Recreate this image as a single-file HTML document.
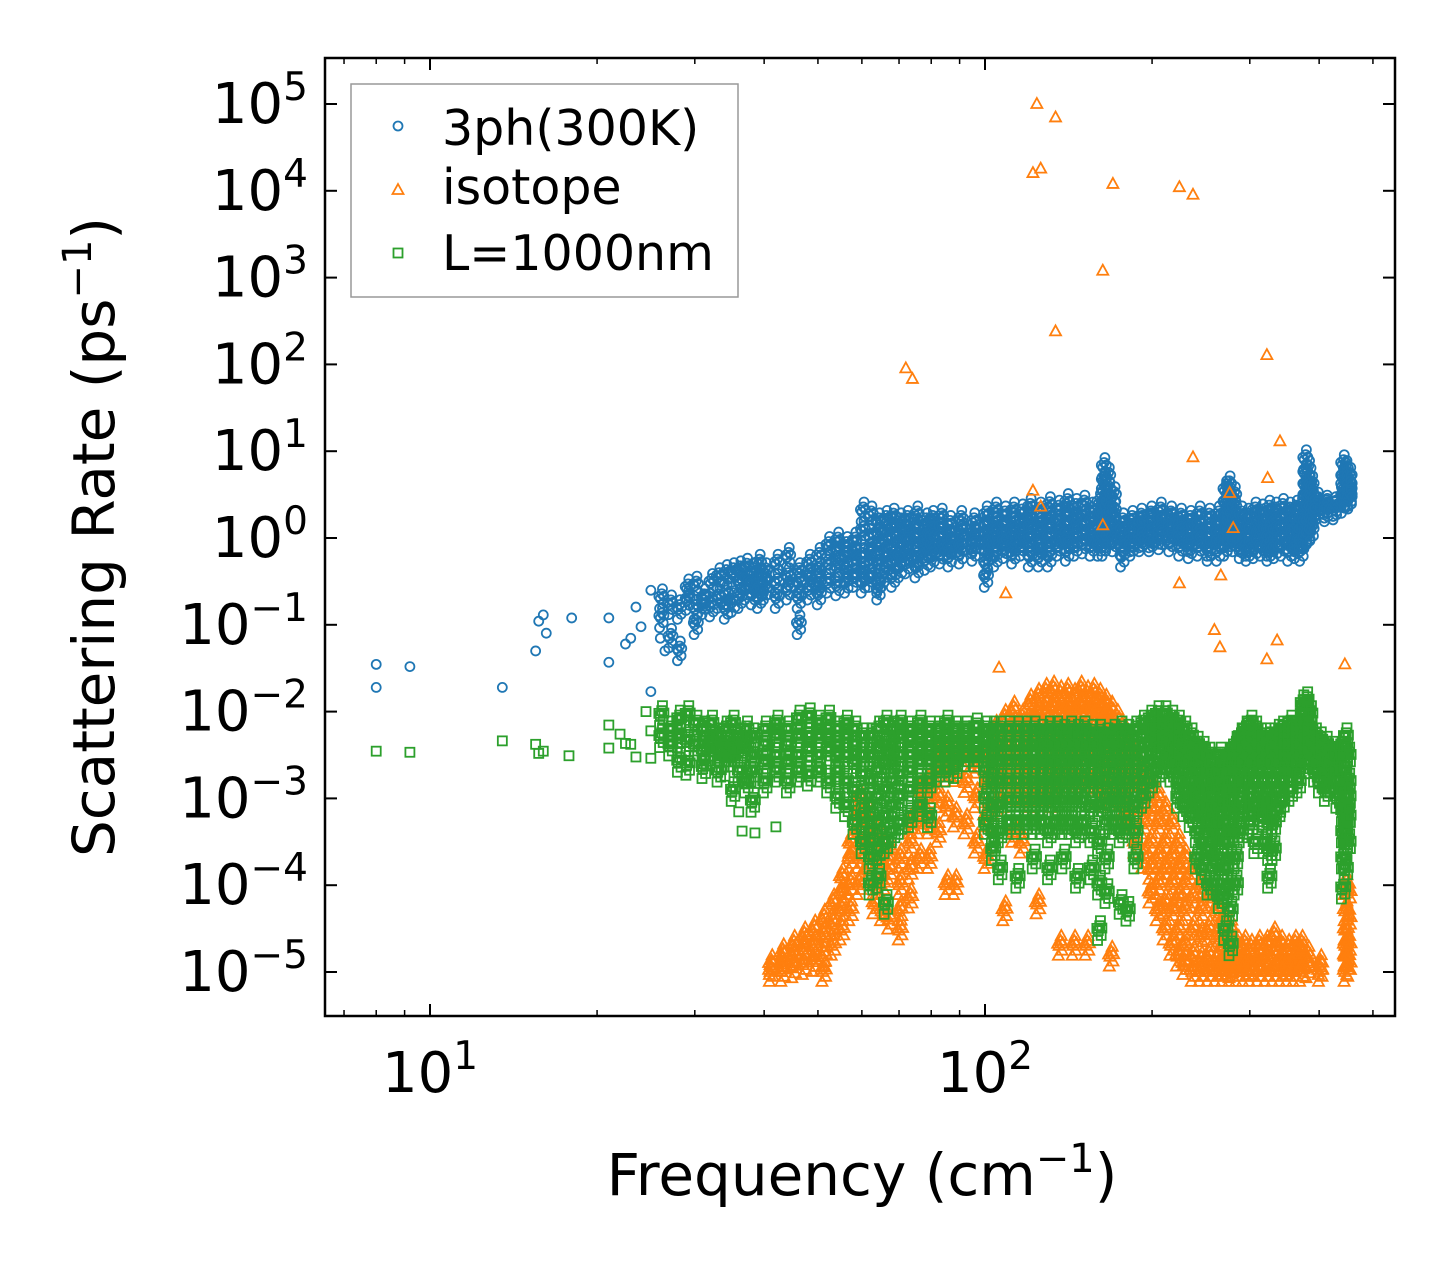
<!DOCTYPE html>
<html><head><meta charset="utf-8"><style>
html,body{margin:0;padding:0;background:#fff;}
svg{display:block;font-family:"DejaVu Sans","Liberation Sans",sans-serif;}
</style></head><body>
<svg id="chart" width="1455" height="1265" viewBox="0 0 1455 1265" xmlns="http://www.w3.org/2000/svg">
<rect width="1455" height="1265" fill="#fff"/>
<g id="marks"></g>
<g id="axes"></g>
<rect x="325" y="58" width="1070" height="958" fill="none" stroke="#000" stroke-width="2.5"/>
<g>
<rect x="351" y="84" width="387" height="213" fill="#fff" fill-opacity="0.85" stroke="#999" stroke-width="1.5"/>
<g><circle cx="398" cy="126" r="4.5" fill="none" stroke="#1f77b4" stroke-width="1.8"/><text x="442" y="145" font-size="49">3ph(300K)</text></g>
<g><path d="M398,184 L403.5,194 L392.5,194 Z" fill="none" stroke="#ff7f0e" stroke-width="1.8"/><text x="442" y="204" font-size="49">isotope</text></g>
<g><rect x="393.5" y="248.5" width="9" height="9" fill="none" stroke="#2ca02c" stroke-width="1.8"/><text x="442" y="270" font-size="49">L=1000nm</text></g>
</g>
<text x="862" y="1195" font-size="58" text-anchor="middle">Frequency (cm<tspan font-size="40" dy="-23">−1</tspan><tspan dy="23">)</tspan></text>
<text transform="translate(114,537) rotate(-90)" font-size="58" text-anchor="middle">Scattering Rate (ps<tspan font-size="40" dy="-23">−1</tspan><tspan dy="23">)</tspan></text>
</svg>
<script>
const xDecades = [1, 2];
const yDecades = [5, 4, 3, 2, 1, 0, -1, -2, -3, -4, -5];
const blueSparse = [[8,0.035],[8,0.019],[9.2,0.033],[13.5,0.019],[15.5,0.05],[15.7,0.11],[16,0.13],[16.2,0.08],[18,0.12],[21,0.12],[21,0.037],[22.5,0.06],[23,0.07],[23.5,0.16],[24,0.095],[25,0.25],[25,0.017],[26,0.07],[26.5,0.05]];
const blueBand = [
[26,[0.12,0.2]],[27,[0.17,0.07]],[28,[0.15,0.05]],[29,[0.19,0.26]],[30,[0.15,0.28,0.1]],[31,[0.2,0.17]],[32,[0.3,0.16]],[33,[0.35,0.2]],[34,[0.38,0.22,0.15]],[35,[0.4,0.18]],[36,[0.3,0.2,0.42]],[37,[0.45,0.25]],[38,[0.4,0.22,0.3]],[39,[0.35,0.2,0.5]],[40,[0.25,0.4,0.3]],[42,[0.3,0.5,0.2]],[44,[0.35,0.25,0.6]],[46,[0.4,0.3,0.2,0.1]],[48,[0.5,0.35,0.25]],[50,[0.6,0.4,0.3,0.22]],[52,[0.8,0.5,0.3]],[54,[0.7,0.45,0.28,0.9]],[56,[0.6,0.4,0.3,0.8]],[58,[0.7,0.5,0.35,0.9]],
[60,[2,1.2,0.6,0.4,0.3]],[62,[1.8,1,0.7,0.5,0.35]],[64,[1.5,1.1,0.8,0.5,0.3,0.25]],[66,[1.6,1.2,0.9,0.6,0.4]],[68,[1.7,1.3,1,0.7,0.5,0.35]],[70,[1.5,1.1,0.8,0.6,0.45]],[72,[1.6,1.2,0.9,0.7,0.5]],[75,[1.8,1.3,1,0.8,0.6,0.45]],[78,[1.5,1.1,0.9,0.7,0.55]],[80,[1.6,1.2,1,0.8,0.6]],[83,[1.7,1.3,1,0.8,0.65]],[86,[1.4,1.1,0.9,0.75,0.6]],[90,[1.6,1.2,1,0.8,0.65]],[95,[1.5,1.2,1,0.85,0.7]],[100,[1.8,1.4,1.1,0.9,0.7,0.5,0.35]],[104,[2,1.5,1.2,1,0.8,0.6]],[108,[1.8,1.4,1.1,0.9,0.75]],[112,[2,1.5,1.2,1,0.8,0.65]],[116,[1.9,1.5,1.2,1,0.8]],[120,[2.2,1.6,1.3,1,0.8,0.6]],[125,[2,1.5,1.2,1,0.75,0.6]],[130,[2.3,1.7,1.3,1,0.8,0.6]],[135,[2.1,1.6,1.2,1,0.8]],[140,[2.5,1.8,1.4,1.1,0.9,0.7]],[145,[2.2,1.6,1.3,1,0.8]],[150,[2.4,1.8,1.4,1.1,0.85]],[155,[2,1.5,1.2,1,0.8]],[160,[2.5,1.8,1.3,1,0.8]],[163,[6.5,4.5,3.5,2.5,1.8,1.3,1,0.8]],[166,[5,3.5,2.5,1.8,1.3,1]],[170,[3,2,1.5,1.1,0.9]],[176,[1.5,1.2,1,0.8,0.6]],[183,[1.6,1.3,1.1,0.9,0.8]],[190,[1.7,1.4,1.2,1,0.9]],[198,[1.8,1.5,1.2,1,0.9]],[206,[2,1.6,1.3,1.1,0.95]],[215,[1.8,1.5,1.3,1.1,0.9]],[224,[1.7,1.4,1.2,1,0.8]],[233,[1.6,1.3,1.1,0.9,0.75]],[242,[1.8,1.4,1.2,1,0.8]],[252,[1.7,1.3,1,0.8,0.7]],[262,[1.8,1.4,1.1,0.9,0.7]],[270,[3.5,2.5,1.8,1.3,1,0.8]],[274,[4,3,2,1.5,1.1,0.9]],[280,[3,2.2,1.6,1.2,0.9]],[288,[1.8,1.4,1.1,0.9,0.75]],[296,[1.7,1.3,1,0.8,0.7]],[305,[2,1.5,1.2,0.9,0.75]],[314,[1.9,1.5,1.2,1,0.8]],[323,[2.1,1.6,1.2,1,0.8,0.7]],[332,[2,1.5,1.2,0.9,0.75]],[342,[2.2,1.7,1.3,1,0.8]],[352,[2,1.5,1.2,0.9,0.7]],[362,[2.1,1.6,1.2,0.9,0.75]],[370,[2.2,1.6,1.2,0.9,0.7]],[376,[8,5.5,4,3,2.2,1.5,1]],[381,[6,4,3,2.2,1.5,1.1]],[386,[4,3,2.2,1.6,1.2]],[395,[2.6,2.3,2.1]],[410,[2.4,2.2,2]],[425,[2.3,2.1]],[440,[7,5,4,3,2.5]],[445,[6,4.5,3.5,3]],[452,[5,4,3.5,3,2.8]]];
const orangeSparse = [[124,1e5],[134,7e4],[122,1.6e4],[126,1.8e4],[170,1.2e4],[224,1.1e4],[237,9e3],[163,1.2e3],[134,240],[72,90],[74,68],[322,128],[340,13],[237,8.5],[323,4.9],[122,3.5],[126,2.3],[163,1.4],[276,3.3],[280,1.3],[109,0.23],[224,0.3],[266,0.37],[259,0.087],[265,0.055],[336,0.066],[322,0.04],[445,0.035],[106,0.032]];
const orangeBand = [
[41,[1e-5,1.2e-5]],[43,[1e-5,1.3e-5,1.6e-5]],[45,[1.1e-5,1.5e-5,2e-5]],[47,[1.2e-5,1.8e-5,2.5e-5]],[49,[1.3e-5,2e-5,3e-5]],[51,[1.5e-5,2.5e-5,4e-5,1e-5]],[53,[2e-5,3.5e-5,6e-5]],[55,[3e-5,5e-5,8e-5,1.2e-4]],[57,[5e-5,1e-4,2e-4,3e-4]],[59,[1e-4,2e-4,4e-4,7e-4,1e-3]],[61,[1.5e-4,3e-4,5e-4,8e-4]],[63,[2e-4,3e-4,4e-4,1e-4,6e-5]],[65,[2e-4,3e-4,5e-5,1e-4]],[67,[1.5e-4,2.5e-4,4e-5]],[70,[1e-4,2e-4,5e-5,3e-5]],[73,[1.5e-4,3e-4,5e-4,7e-5]],[76,[5e-4,8e-4,1.2e-3,2e-4]],[79,[1e-3,1.5e-3,5e-4,2e-4]],[82,[2e-3,3e-3,1e-3,4e-4]],[85,[3e-3,2e-3,8e-4,1e-4]],[88,[3.5e-3,2e-3,6e-4,1e-4]],[92,[3e-3,1.5e-3,5e-4]],[96,[2.5e-3,1e-3,3e-4]],[100,[3e-3,1.5e-3,6e-4,2e-4]],[104,[6e-3,3e-3,1.5e-3,8e-4]],[108,[8e-3,4e-3,2e-3,1e-3,5e-5]],[112,[1e-2,6e-3,3e-3,1.5e-3,4e-4]],[116,[8e-3,5e-3,2.5e-3,1.2e-3,3e-4]],[120,[1.2e-2,7e-3,4e-3,2e-3,1e-3]],[124,[1.4e-2,9e-3,5e-3,2.5e-3,1.2e-3,6e-5]],[128,[1.6e-2,1e-2,6e-3,3e-3,1.5e-3]],[132,[1.7e-2,1.1e-2,7e-3,4e-3,2e-3,1e-3]],[136,[1.5e-2,1e-2,6e-3,3e-3,1.5e-3,2e-5]],[140,[1.6e-2,1.1e-2,7e-3,4e-3,2e-3]],[144,[1.4e-2,9e-3,5e-3,3e-3,1.5e-3,2e-5]],[148,[1.7e-2,1.1e-2,6e-3,3e-3,1.5e-3]],[152,[1.5e-2,1e-2,6e-3,3e-3,1.5e-3,2e-5]],[156,[1.6e-2,1e-2,6e-3,3e-3,1.5e-3]],[160,[1.4e-2,9e-3,5e-3,2.5e-3,1.2e-3]],[164,[1.2e-2,8e-3,4e-3,2e-3,1e-3]],[168,[1e-2,6e-3,3e-3,1.5e-3,1.5e-5]],[172,[8e-3,5e-3,2.5e-3,1.2e-3]],[176,[6e-3,3e-3,1.5e-3,8e-4]],[180,[4e-3,2e-3,1e-3,5e-4]],[186,[3e-3,1.5e-3,7e-4,3e-4]],[192,[2e-3,1e-3,5e-4,2e-4]],[198,[1.5e-3,7e-4,3e-4,1.5e-4,8e-5]],[204,[1e-3,5e-4,2e-4,1e-4,5e-5]],[210,[7e-4,3e-4,1.5e-4,6e-5,3e-5]],[216,[5e-4,2e-4,1e-4,5e-5,2e-5]],[222,[3e-4,1.5e-4,7e-5,3e-5,1.5e-5]],[228,[2e-4,1e-4,5e-5,2e-5,1.2e-5]],[236,[1.5e-4,7e-5,3e-5,1.5e-5,1e-5]],[244,[1e-4,5e-5,2.5e-5,1.3e-5,1e-5]],[252,[7e-5,3e-5,1.5e-5,1e-5]],[260,[5e-5,2.5e-5,1.3e-5,1e-5]],[268,[4e-5,2e-5,1.2e-5,1e-5]],[276,[3e-5,1.7e-5,1.1e-5,1e-5]],[284,[2e-5,1.4e-5,1e-5]],[292,[2e-5,1.3e-5,1e-5]],[300,[1.8e-5,1.2e-5,1e-5]],[310,[2e-5,1.3e-5,1e-5]],[320,[2e-5,1.4e-5,1e-5]],[330,[2.5e-5,1.5e-5,1e-5]],[340,[2e-5,1.3e-5,1e-5]],[350,[1.8e-5,1.2e-5,1e-5]],[360,[2e-5,1.3e-5,1e-5]],[370,[2e-5,1.5e-5,1e-5]],[380,[1.5e-5,1.1e-5]],[400,[1.2e-5,1e-5]],[445,[1e-4,5e-5,3e-5,2e-5,1.5e-5,1e-5]],[450,[8e-5,4e-5,2e-5,1.2e-5]]];
const greenSparse = [[8,3.5e-3],[9.2,3.4e-3],[13.5,4.6e-3],[15.5,4.2e-3],[15.7,3.3e-3],[16,3.5e-3],[17.8,3.1e-3],[21,7e-3],[21,3.8e-3],[22,5.5e-3],[22.5,4.3e-3],[23,4.2e-3],[23.5,3e-3],[24.5,1e-2],[25,6e-3],[25,2.9e-3],[36.5,4.2e-4],[38.5,4e-4],[42,4.7e-4],[36,7e-4],[34,1.8e-3]];
const greenBand = [
[26,[9e-3,5e-3]],[27,[6e-3,4e-3]],[28,[8e-3,5e-3,2.6e-3]],[29,[9e-3,4.5e-3,2.4e-3]],[30,[7e-3,4e-3]],[31,[6e-3,3.5e-3,2.2e-3]],[32,[7e-3,4.5e-3,3.5e-3]],[33,[5e-3,3.5e-3,2e-3]],[34,[6e-3,4e-3,3e-3]],[35,[7e-3,4e-3,3e-3,1.2e-3]],[36,[5e-3,3.5e-3,2e-3]],[37,[6e-3,4e-3,1.5e-3]],[38,[5e-3,3e-3,2e-3,9e-4]],[40,[6e-3,4e-3,2.5e-3,1.5e-3]],[42,[7e-3,5e-3,3e-3,2e-3]],[44,[6e-3,4e-3,2.5e-3,1.5e-3]],[46,[8e-3,5e-3,3e-3,2e-3]],[48,[8.5e-3,5e-3,3.5e-3,1.8e-3]],[50,[7e-3,5e-3,3e-3,2e-3]],[52,[8e-3,5e-3,3.5e-3,1.5e-3]],[54,[6e-3,4e-3,3e-3,2e-3,1e-3]],[56,[7e-3,5e-3,3e-3,1.5e-3,8e-4]],[58,[6e-3,4e-3,2.5e-3,1.2e-3,5e-4]],[60,[5e-3,3e-3,1.8e-3,1e-3,6e-4,3e-4]],[62,[5e-3,3e-3,1.5e-3,8e-4,4e-4,2e-4,1e-4]],[64,[6e-3,3.5e-3,2e-3,1e-3,5e-4,2.5e-4,1.2e-4]],[66,[7e-3,4e-3,2.5e-3,1.2e-3,6e-4,3e-4,6e-5]],[68,[6e-3,4e-3,2.5e-3,1.5e-3,8e-4,4e-4]],[70,[7e-3,5e-3,3e-3,1.8e-3,1e-3,5e-4]],[73,[6e-3,4.5e-3,3e-3,2e-3,1.2e-3,6e-4]],[76,[7e-3,5e-3,3.5e-3,2.5e-3,1.5e-3,8e-4]],[79,[6e-3,4.5e-3,3.5e-3,2.5e-3,1.5e-3,6e-4]],[82,[6e-3,5e-3,4e-3,3e-3,2e-3]],[85,[7e-3,5e-3,4e-3,3e-3,2e-3]],[88,[6e-3,5e-3,4e-3,3e-3,2.2e-3]],[92,[6e-3,5e-3,4e-3,3e-3]],[96,[6.5e-3,5e-3,4e-3,3e-3]],[100,[6e-3,4.5e-3,3e-3,2e-3,1e-3,5e-4]],[103,[6e-3,4e-3,2.5e-3,1.5e-3,8e-4,4e-4,2.5e-4]],[106,[6e-3,4e-3,2.5e-3,1.5e-3,8e-4,4e-4,1.5e-4]],[110,[6e-3,4e-3,2.5e-3,1.5e-3,9e-4,5e-4]],[114,[6e-3,4e-3,2.5e-3,1.5e-3,9e-4,5e-4,1.2e-4]],[118,[6e-3,4e-3,2.5e-3,1.5e-3,9e-4,5e-4]],[122,[6e-3,4e-3,2.5e-3,1.5e-3,9e-4,5e-4,2e-4]],[126,[5.5e-3,4e-3,2.5e-3,1.5e-3,9e-4,5e-4]],[130,[6e-3,4e-3,2.5e-3,1.5e-3,9e-4,4e-4,1.5e-4]],[134,[6e-3,4e-3,2.5e-3,1.5e-3,9e-4,5e-4]],[138,[5.5e-3,4e-3,2.5e-3,1.5e-3,9e-4,5e-4,2e-4]],[142,[6e-3,4e-3,2.5e-3,1.5e-3,9e-4,5e-4]],[146,[5.5e-3,4e-3,2.5e-3,1.5e-3,9e-4,4e-4,1.2e-4]],[150,[6e-3,4e-3,2.5e-3,1.5e-3,9e-4,5e-4]],[155,[5.5e-3,4e-3,2.5e-3,1.5e-3,8e-4,4e-4,1.5e-4]],[160,[5.5e-3,4e-3,2.5e-3,1.5e-3,8e-4,3e-4,1e-4,3e-5]],[165,[5e-3,3.5e-3,2e-3,1e-3,5e-4,2e-4,8e-5]],[170,[5.5e-3,4e-3,2.5e-3,1.5e-3,9e-4,5e-4]],[175,[6e-3,4e-3,2.5e-3,1.5e-3,9e-4,4e-4,6e-5]],[180,[5.5e-3,4e-3,2.5e-3,1.5e-3,9e-4,5e-4,5e-5]],[186,[6e-3,4e-3,2.5e-3,1.5e-3,8e-4,4e-4,2e-4]],[192,[7e-3,5e-3,3e-3,1.8e-3,1e-3]],[198,[8e-3,6e-3,4e-3,2.5e-3,1.5e-3]],[204,[9e-3,6e-3,4.5e-3,3e-3,2e-3]],[210,[9e-3,7e-3,5e-3,3.5e-3,2.5e-3]],[216,[8e-3,6e-3,4.5e-3,3e-3,2e-3]],[222,[7e-3,5e-3,3.5e-3,2.5e-3,1.5e-3,1e-3]],[228,[6e-3,4e-3,3e-3,2e-3,1.2e-3,8e-4]],[234,[5e-3,3.5e-3,2.5e-3,1.5e-3,1e-3,6e-4]],[240,[4e-3,3e-3,2e-3,1.2e-3,8e-4,4e-4,2e-4]],[246,[3.5e-3,2.5e-3,1.5e-3,1e-3,6e-4,3e-4,1.5e-4]],[252,[3e-3,2e-3,1.2e-3,8e-4,5e-4,2.5e-4,1e-4]],[258,[2.5e-3,1.5e-3,1e-3,6e-4,4e-4,2e-4,1e-4]],[264,[3e-3,2e-3,1.2e-3,8e-4,5e-4,3e-4,1.5e-4,7e-5]],[270,[2.5e-3,1.5e-3,9e-4,5e-4,3e-4,1.5e-4,8e-5,3e-5]],[276,[3e-3,2e-3,1.2e-3,7e-4,4e-4,2e-4,1e-4,5e-5,2e-5]],[282,[4e-3,3e-3,2e-3,1.2e-3,7e-4,4e-4,2e-4,1e-4]],[288,[5e-3,4e-3,3e-3,2e-3,1.2e-3,7e-4,4e-4]],[294,[6e-3,4.5e-3,3.5e-3,2.5e-3,1.5e-3,8e-4]],[300,[7e-3,5e-3,4e-3,3e-3,2e-3,1e-3,5e-4]],[306,[6e-3,4.5e-3,3.5e-3,2.5e-3,1.5e-3,8e-4,3e-4]],[312,[5e-3,4e-3,3e-3,2e-3,1.2e-3,7e-4]],[318,[5e-3,3.5e-3,2.5e-3,1.5e-3,1e-3,6e-4,3e-4]],[324,[4.5e-3,3e-3,2e-3,1.2e-3,8e-4,5e-4,2.5e-4,1.2e-4]],[330,[5e-3,3.5e-3,2.5e-3,1.5e-3,9e-4,5e-4,2.5e-4]],[336,[5.5e-3,4e-3,3e-3,2e-3,1.2e-3,7e-4]],[342,[6e-3,4.5e-3,3.5e-3,2.5e-3,1.5e-3,9e-4]],[348,[6e-3,5e-3,4e-3,3e-3,2e-3]],[354,[7e-3,5e-3,4e-3,3e-3,2e-3,1.2e-3]],[360,[6e-3,5e-3,4e-3,3e-3,2e-3]],[366,[6e-3,4.5e-3,3.5e-3,2.5e-3,1.5e-3]],[372,[1.2e-2,9e-3,6e-3,4e-3,3e-3]],[378,[1.3e-2,1e-2,7e-3,5e-3,3.5e-3,2.5e-3]],[384,[9e-3,6e-3,4.5e-3,3.5e-3,2.5e-3]],[392,[5e-3,4e-3,3e-3,2e-3]],[400,[4.5e-3,3.5e-3,2.5e-3,1.5e-3]],[410,[4e-3,3e-3,2e-3,1.2e-3]],[420,[3.5e-3,2.5e-3,1.5e-3]],[430,[3e-3,2e-3,1e-3]],[440,[4e-3,3e-3,2e-3,1.2e-3,7e-4,4e-4,2e-4,9e-5]],[445,[5e-3,3e-3,1.5e-3,8e-4,5e-4,3e-4,1.5e-4]],[450,[3e-3,1.5e-3,1e-3,6e-4,3e-4]]];

const X0 = 430, XDEC = 555, Y0 = 104, YDEC = 86.8;
function xs(f){ return X0 + (Math.log10(f) - 1) * XDEC; }
function ys(r){ return Y0 + (5 - Math.log10(r)) * YDEC; }
const NS = 'http://www.w3.org/2000/svg';
const marks = document.getElementById('marks');
const axes = document.getElementById('axes');
function mk(tag, attrs, parent){ const e = document.createElementNS(NS, tag); for (const k in attrs) e.setAttribute(k, attrs[k]); parent.appendChild(e); return e; }

const gB = mk('g', {}, marks);


const gO = mk('g', {}, marks);


const gG = mk('g', {}, marks);



function circle(f, r){ const e = mk('circle', {cx: xs(f), cy: ys(r), r: 4.5, fill: 'none', stroke: '#1f77b4', 'stroke-width': 1.8}, gB);
  
   }
function tri(f, r){ const x = xs(f), y = ys(r);
  const e = mk('path', {d: `M${x},${y-6} L${x+5.5},${y+4} L${x-5.5},${y+4} Z`, fill: 'none', stroke: '#ff7f0e', 'stroke-width': 1.8}, gO);
  
   }
function sq(f, r){ const x = xs(f), y = ys(r);
  const e = mk('rect', {x: x-4.5, y: y-4.5, width: 9, height: 9, fill: 'none', stroke: '#2ca02c', 'stroke-width': 1.8}, gG);
  
   }

const spread = [[1,1],[1.006,1.14],[1.012,0.88],[0.994,1.06],[1.009,1.3],[0.997,0.77],[1.015,1.07]];
blueSparse.forEach(p => circle(p[0], p[1]));
blueBand.forEach(([f, rs]) => rs.forEach(r => spread.forEach(s => circle(f*s[0], r*s[1]))));
orangeSparse.forEach(p => tri(p[0], p[1]));
orangeBand.forEach(([f, rs]) => rs.forEach(r => spread.forEach(s => tri(f*s[0], r*s[1]))));
greenSparse.forEach(p => sq(p[0], p[1]));
greenBand.forEach(([f, rs]) => rs.forEach(r => spread.forEach(s => sq(f*s[0], r*s[1]))));

const L = 325, R = 1395, T = 58, B = 1016;
yDecades.forEach(d => {
  const y = Y0 + (5 - d) * YDEC;
  mk('line', {x1: L, x2: L+12, y1: y, y2: y, stroke: '#000', 'stroke-width': 2}, axes);
  mk('line', {x1: R-12, x2: R, y1: y, y2: y, stroke: '#000', 'stroke-width': 2}, axes);
  const t = mk('text', {x: 308, y: y+19, 'font-size': 56, 'text-anchor': 'end'}, axes);
  
  
  const exp = d < 0 ? '−' + Math.abs(d) : String(d);
  t.innerHTML = `10<tspan font-size="39" dy="-23">${exp}</tspan>`;
});
for (let dec = 0; dec <= 2; dec++) {
  for (let m = 1; m <= 9; m++) {
    const f = m * Math.pow(10, dec);
    const x = xs(f);
    if (x < L || x > R) continue;
    const len = m === 1 ? 12 : 6;
    mk('line', {x1: x, x2: x, y1: B, y2: B-len, stroke: '#000', 'stroke-width': m === 1 ? 2 : 1.5}, axes);
    mk('line', {x1: x, x2: x, y1: T, y2: T+len, stroke: '#000', 'stroke-width': m === 1 ? 2 : 1.5}, axes);
  }
}
xDecades.forEach(d => {
  const x = X0 + (d - 1) * XDEC;
  const t = mk('text', {x: x, y: 1092, 'font-size': 56, 'text-anchor': 'middle'}, axes);
  
  
  t.innerHTML = `10<tspan font-size="39" dy="-23">${d}</tspan>`;
});
</script>
</body></html>
